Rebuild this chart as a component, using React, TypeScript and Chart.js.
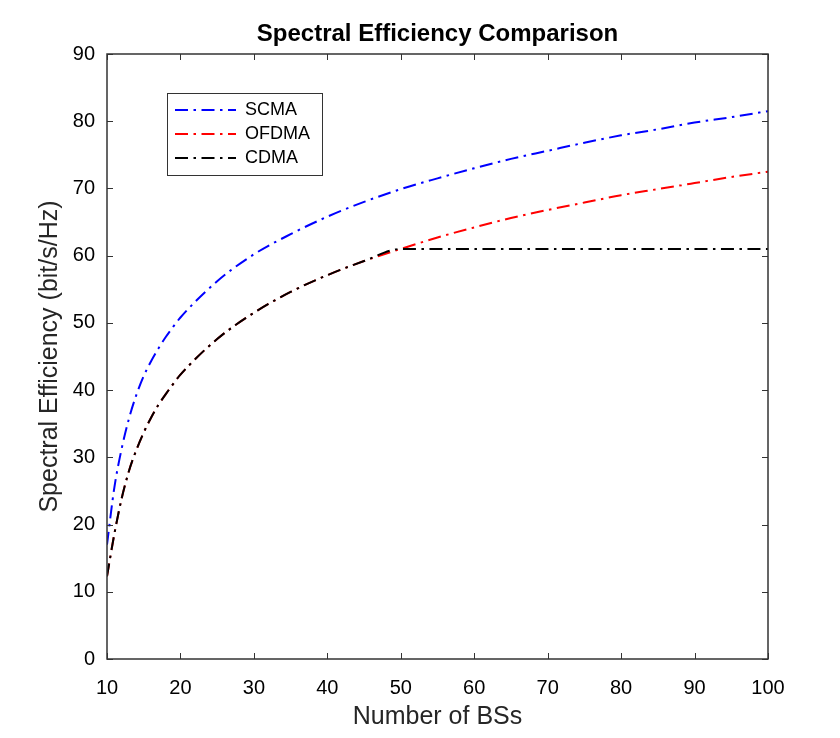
import React, { useEffect, useRef } from 'react';
import { Chart, registerables } from 'chart.js';

Chart.register(...registerables);

// number of base stations (x axis)
const bsCounts = [10, 11, 12, 13, 14, 15, 16, 17, 18, 19, 20, 25, 30, 35, 40, 45, 50, 55, 60, 65, 70, 75, 80, 85, 90, 95, 100];

// spectral efficiency (bit/s/Hz)
const scmaValues = [17.0, 25.5, 31.3, 35.8, 39.3, 42.1, 44.3, 46.2, 47.9, 49.4, 50.8, 56.2, 60.2, 63.2, 65.8, 68.0, 69.9, 71.5, 73.0, 74.4, 75.6, 76.8, 77.9, 78.8, 79.8, 80.6, 81.5];
const ofdmaValues = [12.3, 18.6, 23.9, 28.0, 31.1, 33.7, 35.9, 37.8, 39.4, 40.9, 42.3, 47.6, 51.5, 54.6, 57.1, 59.2, 61.0, 62.7, 64.2, 65.6, 66.8, 67.9, 69.0, 69.9, 70.8, 71.7, 72.5];
const cdmaValues = [12.3, 18.6, 23.9, 28.0, 31.1, 33.7, 35.9, 37.8, 39.4, 40.9, 42.3, 47.6, 51.5, 54.6, 57.1, 59.2, 61.0, 61.0, 61.0, 61.0, 61.0, 61.0, 61.0, 61.0, 61.0, 61.0, 61.0];

const seriesNames = ['SCMA', 'OFDMA', 'CDMA'];
const seriesColors = ['#0000ff', '#ff0000', '#000000'];

const xTicks = [10, 20, 30, 40, 50, 60, 70, 80, 90, 100];
const yTicks = [0, 10, 20, 30, 40, 50, 60, 70, 80, 90];

const FONT = '"Liberation Sans", Arial, Helvetica, sans-serif';
const dashDot = [13, 5.5, 2.5, 5.5];

const toPoints = (ys: number[]) => bsCounts.map((x, i) => ({ x, y: ys[i] }));

// matlab-like box with inward ticks on all four sides
const axesBox = {
  id: 'axesBox',
  afterDatasetsDraw(chart: any) {
    const { ctx, chartArea: a, scales } = chart;
    const tl = 6;
    ctx.save();
    ctx.strokeStyle = '#333333';
    ctx.lineWidth = 1;
    ctx.beginPath();
    xTicks.forEach((v) => {
      const px = Math.round(scales.x.getPixelForValue(v)) + 0.5;
      ctx.moveTo(px, a.bottom);
      ctx.lineTo(px, a.bottom - tl);
      ctx.moveTo(px, a.top);
      ctx.lineTo(px, a.top + tl);
    });
    yTicks.forEach((v) => {
      const py = Math.round(scales.y.getPixelForValue(v)) + 0.5;
      ctx.moveTo(a.left, py);
      ctx.lineTo(a.left + tl, py);
      ctx.moveTo(a.right, py);
      ctx.lineTo(a.right - tl, py);
    });
    ctx.stroke();
    ctx.lineWidth = 1.5;
    ctx.strokeRect(a.left, a.top, a.right - a.left, a.bottom - a.top);
    ctx.restore();
  },
};

// legend box inside the axes, upper left
const insetLegend = {
  id: 'insetLegend',
  afterDraw(chart: any) {
    const { ctx, chartArea: a } = chart;
    const bx = a.left + 60;
    const by = a.top + 39;
    ctx.save();
    ctx.fillStyle = '#ffffff';
    ctx.fillRect(bx, by, 155, 82);
    ctx.strokeStyle = '#333333';
    ctx.lineWidth = 1;
    ctx.strokeRect(bx + 0.5, by + 0.5, 155, 82);
    chart.data.datasets.forEach((ds: any, i: number) => {
      const y = by + 17 + i * 24;
      ctx.strokeStyle = ds.borderColor;
      ctx.lineWidth = 2;
      ctx.setLineDash(ds.borderDash);
      ctx.beginPath();
      ctx.moveTo(bx + 8, y);
      ctx.lineTo(bx + 69, y);
      ctx.stroke();
      ctx.setLineDash([]);
      ctx.fillStyle = '#000000';
      ctx.font = `18px ${FONT}`;
      ctx.textBaseline = 'middle';
      ctx.fillText(ds.label, bx + 78, y);
    });
    ctx.restore();
  },
};

export default function App() {
  const canvasRef = useRef<HTMLCanvasElement>(null);

  useEffect(() => {
    document.body.style.margin = '0';
    if (!canvasRef.current) return;

    const values = [scmaValues, ofdmaValues, cdmaValues];
    const chart = new Chart(canvasRef.current, {
      type: 'line',
      data: {
        datasets: seriesNames.map((name, i) => ({
          label: name,
          data: toPoints(values[i]),
          borderColor: seriesColors[i],
          backgroundColor: seriesColors[i],
          borderWidth: 2,
          borderDash: dashDot,
          pointRadius: 0,
          fill: false,
          cubicInterpolationMode: 'monotone' as const,
          order: 2 - i, // CDMA on top of OFDMA
        })),
      },
      options: {
        animation: false,
        responsive: true,
        maintainAspectRatio: false,
        layout: { padding: { left: 0, right: 72, top: 0, bottom: 0 } },
        scales: {
          x: {
            type: 'linear',
            min: 10,
            max: 100,
            afterBuildTicks: (s: any) => {
              s.ticks = xTicks.map((v) => ({ value: v }));
            },
            afterFit: (s: any) => {
              s.height = 79;
            },
            grid: { display: false, drawTicks: false },
            border: { display: false },
            ticks: {
              autoSkip: false,
              maxRotation: 0,
              padding: 17,
              color: '#000',
              font: { family: FONT, size: 20 },
            },
            title: {
              display: true,
              text: 'Number of BSs',
              color: '#262626',
              font: { family: FONT, size: 25 },
              padding: { top: 0, bottom: 6 },
            },
          },
          y: {
            type: 'linear',
            min: 0,
            max: 90,
            afterBuildTicks: (s: any) => {
              s.ticks = yTicks.map((v) => ({ value: v }));
            },
            afterFit: (s: any) => {
              s.width = 107;
            },
            grid: { display: false, drawTicks: false },
            border: { display: false },
            ticks: {
              padding: 12,
              color: '#000',
              font: { family: FONT, size: 20 },
            },
            title: {
              display: true,
              text: 'Spectral Efficiency (bit/s/Hz)',
              color: '#262626',
              font: { family: FONT, size: 25 },
              padding: { top: 35, bottom: 0 },
            },
          },
        },
        plugins: {
          legend: { display: false },
          tooltip: { enabled: false },
          title: {
            display: true,
            text: 'Spectral Efficiency Comparison',
            fullSize: false,
            color: '#000',
            font: { family: FONT, size: 24, weight: 'bold' },
            padding: { top: 20, bottom: 5.2 },
          },
        },
      },
      plugins: [axesBox, insetLegend],
    });

    return () => {
      chart.destroy();
    };
  }, []);

  return (
    <div style={{ position: 'relative', width: 840, height: 738 }}>
      <canvas ref={canvasRef} role="img" aria-label="Spectral Efficiency Comparison line chart" />
    </div>
  );
}
